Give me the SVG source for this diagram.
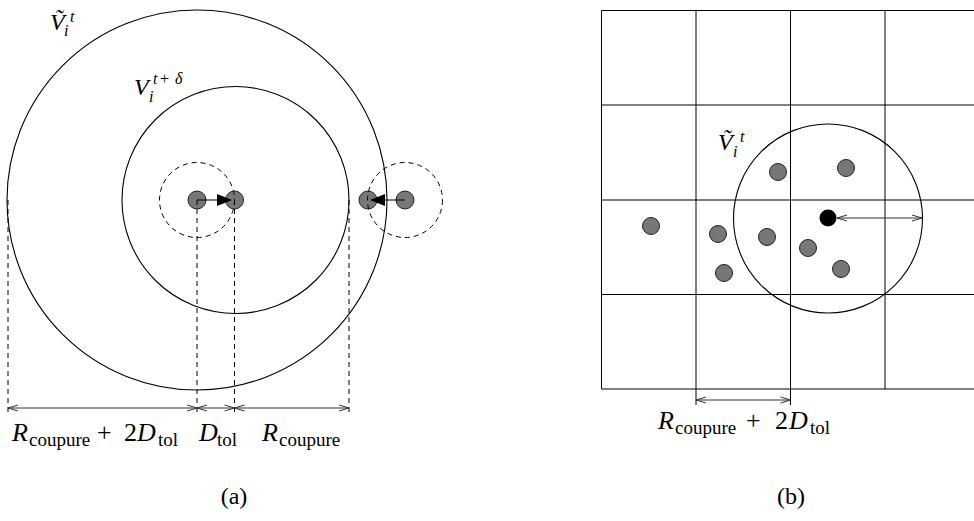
<svg xmlns="http://www.w3.org/2000/svg" width="974" height="521" viewBox="0 0 974 521">
<defs>
<style>
.c{fill:none;stroke:#000;stroke-width:1.1}
.d{fill:none;stroke:#000;stroke-width:1;stroke-dasharray:5,4}
.g{fill:none;stroke:#000;stroke-width:1}
.p{fill:#777;stroke:#222;stroke-width:1}
.dim{fill:none;stroke:#333;stroke-width:1;marker-start:url(#oh);marker-end:url(#oh)}
text{font-family:"Liberation Serif","Times New Roman",serif;fill:#000}
.m{font-style:italic}
</style>
<marker id="oh" viewBox="-1 -5 12 10" refX="10" refY="0" markerWidth="12" markerHeight="10" markerUnits="userSpaceOnUse" orient="auto-start-reverse">
<path d="M0,-3 L10,0 L0,3" fill="none" stroke="#333" stroke-width="1"/>
</marker>
</defs>

<g id="panel-a">
<g id="circle-vtilde"><circle class="c" cx="197" cy="200" r="190"/></g>
<g id="circle-v"><circle class="c" cx="235.5" cy="200" r="113.5"/></g>
<g id="particle-a1"><circle class="p" cx="197" cy="200" r="9"/></g>
<g id="particle-a2"><circle class="p" cx="234.5" cy="200" r="9"/></g>
<g id="particle-a3"><circle class="p" cx="368" cy="200" r="9"/></g>
<g id="particle-a4"><circle class="p" cx="405" cy="200" r="9"/></g>
<g id="tol-circle-1"><circle class="d" cx="197" cy="200" r="37.5"/></g>
<g id="tol-circle-2"><circle class="d" cx="405" cy="200" r="37.5"/></g>
<g id="connectors-a">
<path class="d" d="M8,200 V415 M197,200 V415 M234.5,200 V415 M349,200 V415"/>
<path class="g" d="M197,200 H218" stroke-width="1.5"/>
<polygon points="217,194 232,200 217,206" fill="#000"/>
<path class="g" d="M405,200 H384" stroke-width="1.5"/>
<polygon points="385,194 370,200 385,206" fill="#000"/>
<path class="dim" d="M8,408 H197"/>
<path class="dim" d="M197,408 H234.5"/>
<path class="dim" d="M234.5,408 H349"/>
</g>
<g id="labels-a">
<text x="50" y="30" font-size="24" class="m">Ṽ</text>
<text x="64" y="36" font-size="16" class="m">i</text>
<text x="70" y="22" font-size="16" class="m">t</text>
<text x="134" y="95" font-size="24" class="m">V</text>
<text x="149" y="102" font-size="16" class="m">i</text>
<text x="153" y="84" font-size="16"><tspan class="m">t</tspan><tspan x="160">+</tspan><tspan x="175" class="m">δ</tspan></text>
<text y="441" font-size="26"><tspan x="12" class="m">R</tspan><tspan x="29" y="446" font-size="19">coupure</tspan><tspan x="97" y="441">+</tspan><tspan x="124">2</tspan><tspan x="137" class="m">D</tspan><tspan x="158" y="446" font-size="19">tol</tspan></text>
<text y="441" font-size="26"><tspan x="199" class="m">D</tspan><tspan x="217" y="446" font-size="19">tol</tspan></text>
<text y="441" font-size="26"><tspan x="262" class="m">R</tspan><tspan x="279" y="446" font-size="19">coupure</tspan></text>
<text x="234" y="504" font-size="24" text-anchor="middle">(a)</text>
</g>
</g>

<g id="panel-b">
<g id="grid">
<path class="g" d="M601.5,10.5 H974 M601.5,105 H974 M601.5,200 H974 M601.5,294.5 H974 M601.5,389 H974"/>
<path class="g" d="M601.5,10.5 V389 M696,10.5 V389 M790.5,10.5 V389 M885,10.5 V389"/>
</g>
<g id="circle-b"><circle class="c" cx="828" cy="218.5" r="94.5"/></g>
<g id="particle-b0"><circle cx="828" cy="218" r="8.5" fill="#000"/></g>
<g id="particle-b1"><circle class="p" cx="778" cy="172" r="8.5"/></g>
<g id="particle-b2"><circle class="p" cx="846" cy="168" r="8.5"/></g>
<g id="particle-b3"><circle class="p" cx="651" cy="226" r="8.5"/></g>
<g id="particle-b4"><circle class="p" cx="718" cy="234" r="8.5"/></g>
<g id="particle-b5"><circle class="p" cx="767" cy="237" r="8.5"/></g>
<g id="particle-b6"><circle class="p" cx="808" cy="248" r="8.5"/></g>
<g id="particle-b7"><circle class="p" cx="724" cy="273" r="8.5"/></g>
<g id="particle-b8"><circle class="p" cx="841" cy="269" r="8.5"/></g>
<g id="connectors-b">
<path class="dim" d="M837,218 H922"/>
<path class="g" d="M696,389 V405 M790.5,389 V405"/>
<path class="dim" d="M696,400 H790.5"/>
</g>
<g id="labels-b">
<text x="718" y="150" font-size="24" class="m">Ṽ</text>
<text x="733" y="157" font-size="16" class="m">i</text>
<text x="740" y="142" font-size="16" class="m">t</text>
<text y="429" font-size="26"><tspan x="658" class="m">R</tspan><tspan x="675" y="434" font-size="19">coupure</tspan><tspan x="746" y="429">+</tspan><tspan x="775">2</tspan><tspan x="789" class="m">D</tspan><tspan x="810" y="434" font-size="19">tol</tspan></text>
<text x="791" y="504" font-size="24" text-anchor="middle">(b)</text>
</g>
</g>
</svg>
